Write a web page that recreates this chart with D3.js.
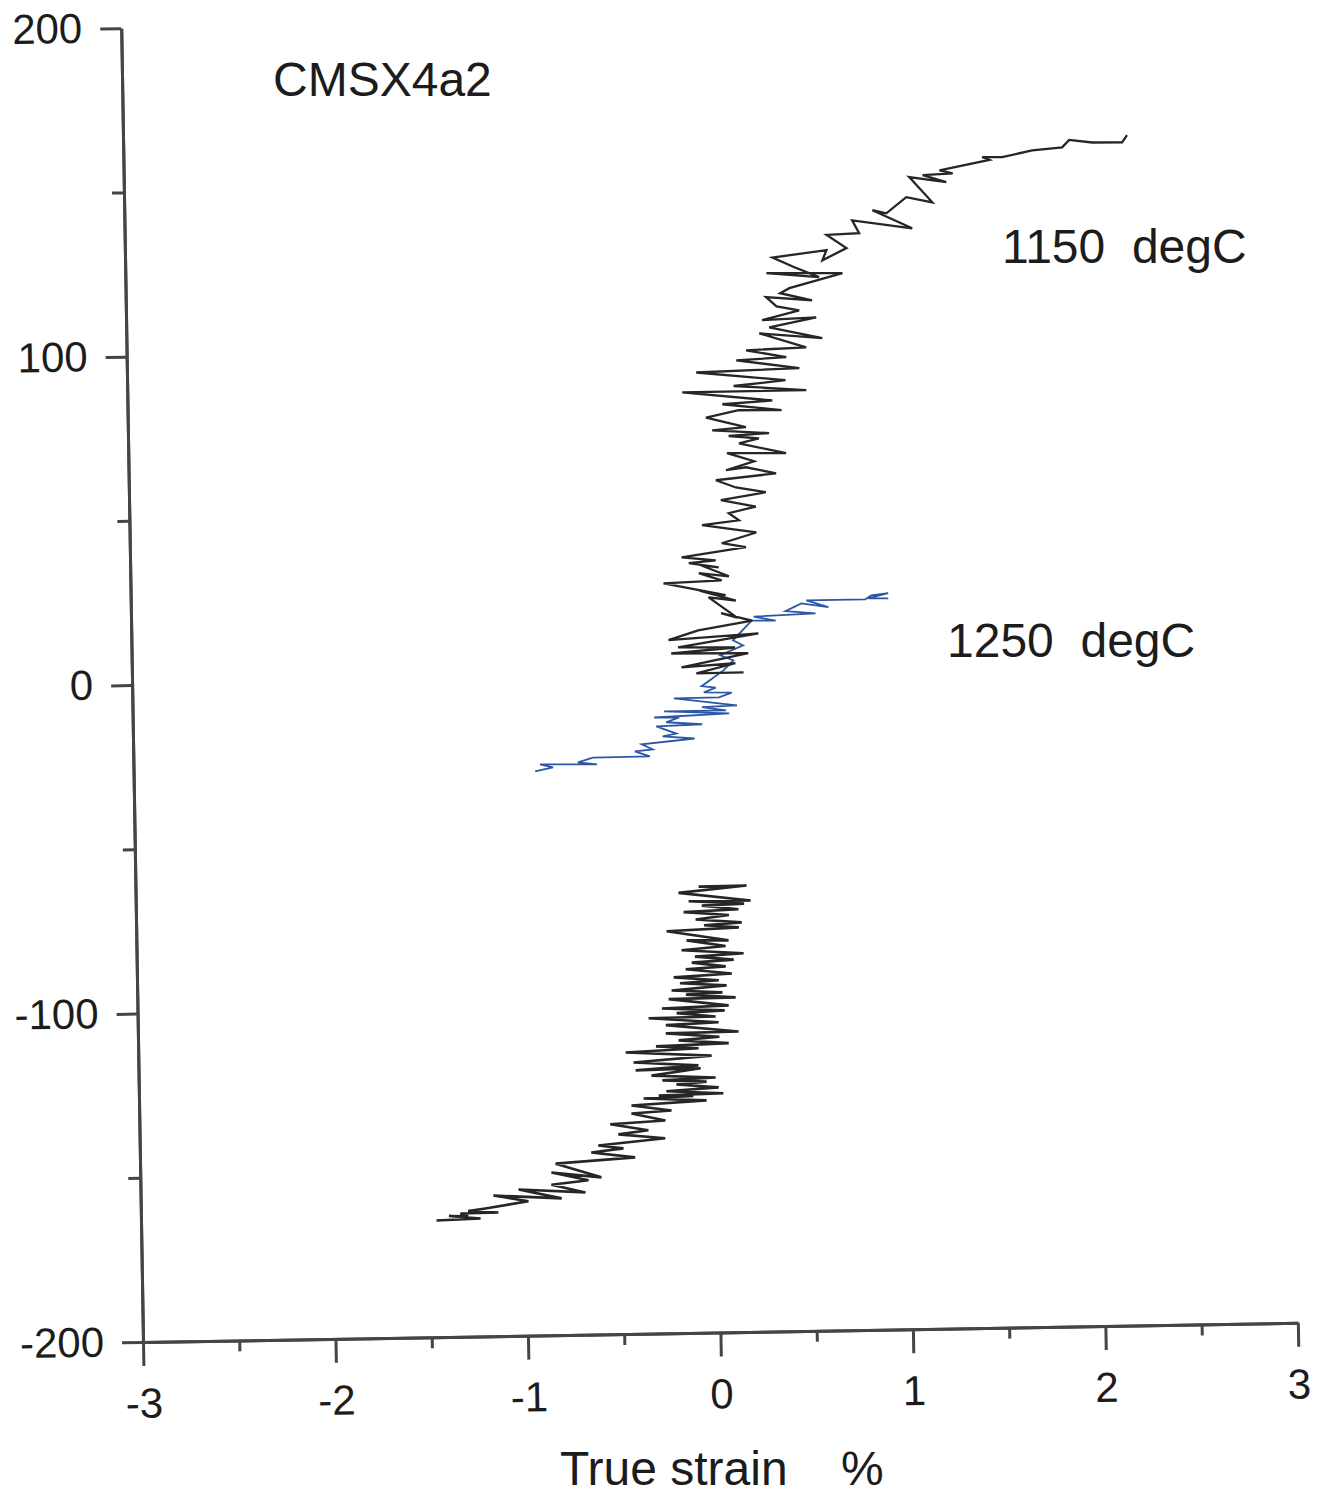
<!DOCTYPE html>
<html>
<head>
<meta charset="utf-8">
<script src="https://cdn.jsdelivr.net/npm/d3@7"></script>
<style>
  body { margin: 0; background: #fff; }
  svg text { font-family: "Liberation Sans", Arial, sans-serif; fill: #1c1c1c; }
</style>
</head>
<body>
<div id="chart"></div>
<script>
var width = 1327,
    height = 1494;

// axis ticks
var strainTicks = [-3, -2, -1, 0, 1, 2, 3];
var strainMinor = [-2.5, -1.5, -0.5, 0.5, 1.5, 2.5];
var stressTicks = [200, 100, 0, -100, -200];
var stressMinor = [150, 50, -50, -150];

// 1150 degC, tension half (strain %, stress MPa)
var upper1150 = [
  [0.177,0.8],[-0.068,0.7],[0.135,3.6],[-0.145,2.6],[0.203,6.6],[-0.197,6.9],[0.135,8.4],[-0.161,8.7],
  [0.257,12.6],[-0.210,11.0],[-0.055,13.8],[0.226,16.5],[0.065,18.9],[0.148,17.5],[0.002,23.8],[0.143,22.7],
  [-0.049,26.0],[0.091,24.4],[-0.231,28.3],[0.071,28.9],[-0.047,31.2],[0.109,30.1],[-0.036,33.6],[0.057,32.9],
  [-0.098,34.3],[0.042,35.0],[-0.135,36.1],[0.200,38.9],[0.075,40.2],[0.255,43.3],[-0.026,45.8],[0.166,47.1],
  [0.114,49.3],[0.255,51.2],[0.074,53.3],[0.308,55.5],[0.153,57.1],[0.050,59.4],[0.363,61.2],[0.207,63.2],
  [0.103,62.4],[0.250,65.0],[0.110,67.6],[0.417,67.3],[0.173,70.5],[0.277,71.9],[0.120,72.8],[0.330,73.5],
  [0.035,74.6],[0.210,75.4],[0.004,78.5],[0.174,80.6],[0.397,80.4],[0.090,82.5],[0.350,83.4],[-0.117,86.3],
  [0.527,86.4],[0.150,88.0],[0.420,89.5],[-0.043,92.3],[0.493,93.1],[0.166,95.8],[0.426,96.5],[0.218,98.8],
  [0.530,99.4],[0.288,103.9],[0.615,102.1],[0.340,105.7],[0.585,108.5],[0.304,107.9],[0.497,110.7],[0.380,112.0],
  [0.326,114.9],[0.565,113.7],[0.400,116.0],[0.448,117.5],[0.725,121.8],[0.330,122.2],[0.603,120.7],[0.470,124.0],
  [0.363,126.9],[0.644,128.9],[0.622,125.8],[0.748,129.4],[0.646,133.5],[0.815,133.9],[0.780,137.8],[1.091,135.1],
  [0.886,140.8],[0.958,139.8],[1.063,144.6],[1.198,142.9],[1.080,150.7],[1.272,149.0],[1.150,151.2],[1.306,151.6],
  [1.238,152.6],[1.498,155.5],[1.461,156.4],[1.565,156.3],[1.721,158.2],[1.877,159.0],[1.914,161.2],[2.033,160.3],
  [2.189,160.2],[2.215,162.4]
];

// 1150 degC, compression half
var lower1150 = [
  [-1.465,-164.5],[-1.236,-164.1],[-1.400,-163.2],[-1.300,-163.4],[-1.340,-162.5],[-1.143,-162.4],[-1.300,-161.8],[-1.210,-161.1],
  [-0.986,-159.1],[-1.167,-157.2],[-0.813,-158.4],[-1.036,-155.5],[-0.689,-156.7],[-0.865,-154.2],[-0.672,-153.0],[-0.864,-150.5],
  [-0.605,-152.2],[-0.841,-147.8],[-0.428,-146.3],[-0.655,-144.6],[-0.488,-143.5],[-0.618,-142.5],[-0.270,-140.6],[-0.513,-139.2],
  [-0.357,-138.1],[-0.554,-136.1],[-0.268,-135.2],[-0.443,-132.9],[-0.235,-132.2],[-0.442,-130.5],[-0.052,-129.3],[-0.379,-128.4],
  [-0.120,-127.9],[-0.300,-127.6],[0.036,-127.2],[-0.260,-126.3],[0.012,-125.4],[-0.207,-124.3],[-0.050,-123.6],[-0.280,-123.0],
  [-0.003,-122.4],[-0.336,-121.5],[-0.080,-119.5],[-0.418,-119.8],[-0.091,-118.6],[-0.428,-117.4],[-0.022,-115.7],[-0.468,-114.3],
  [-0.089,-113.4],[-0.310,-112.6],[0.068,-112.0],[-0.192,-110.9],[0.020,-110.0],[-0.258,-108.7],[0.120,-108.5],[-0.257,-106.2],
  [0.017,-105.6],[-0.346,-104.0],[0.002,-103.8],[-0.200,-102.6],[0.050,-102.0],[-0.276,-101.1],[0.071,-100.5],[-0.240,-98.3],
  [0.108,-98.1],[-0.150,-97.0],[0.040,-96.5],[-0.224,-95.7],[0.062,-94.4],[-0.180,-93.5],[0.022,-92.8],[-0.212,-91.7],
  [0.090,-90.8],[-0.149,-89.3],[0.059,-88.6],[-0.117,-87.3],[0.101,-86.6],[-0.100,-85.5],[0.153,-84.7],[-0.169,-83.5],
  [0.060,-82.4],[-0.142,-80.5],[0.076,-80.7],[-0.245,-77.6],[0.131,-76.8],[-0.050,-76.0],[0.146,-75.3],[-0.093,-74.2],
  [0.080,-73.0],[-0.155,-71.9],[0.130,-71.3],[-0.060,-70.0],[0.160,-69.6],[-0.128,-68.6],[0.194,-68.7],[-0.180,-66.0],
  [0.174,-64.1],[-0.075,-64.2]
];

// 1250 degC
var curve1250 = [
  [-0.914,-28.3],[-0.821,-27.2],[-0.888,-26.2],[-0.592,-26.5],[-0.691,-25.8],[-0.613,-24.4],[-0.317,-24.3],[-0.395,-22.7],
  [-0.301,-22.2],[-0.358,-20.6],[-0.083,-19.1],[-0.249,-18.3],[-0.177,-17.5],[-0.281,-15.2],[-0.042,-14.8],[-0.229,-14.0],
  [-0.161,-12.6],[-0.291,-12.5],[0.099,-11.6],[-0.239,-10.7],[0.083,-10.7],[-0.042,-9.6],[0.140,-9.2],[-0.187,-6.8],
  [0.047,-6.7],[0.114,-5.3],[-0.031,-5.1],[0.031,-3.7],[-0.042,-3.2],[0.073,1.5],[0.125,4.5],[0.057,6.1],
  [0.177,9.0],[0.125,10.6],[0.223,16.5],[0.348,16.4],[0.234,17.7],[0.556,18.4],[0.400,19.2],[0.483,21.5],
  [0.623,20.2],[0.509,22.4],[0.816,22.4],[0.847,23.6],[0.935,24.2],[0.831,22.7],[0.935,22.6]
];

var svg = d3.select("#chart").append("svg")
    .attr("width", width)
    .attr("height", height);

// plot frame (scanned page is tilted slightly, so the frame is rotated)
var frameLeft = 143, frameRight = 1298, frameTop = 28, frameBottom = 1342;

var x = d3.scaleLinear().domain([-3, 3]).range([frameLeft, frameRight]);
var y = d3.scaleLinear().domain([-200, 200]).range([frameBottom, frameTop]);

var g = svg.append("g")
    .attr("transform", "rotate(-0.95," + frameLeft + "," + frameBottom + ")");

var axisColor = "#454545";

function styleAxis(sel) {
  sel.selectAll("path").attr("stroke", axisColor).attr("stroke-width", 3);
  sel.selectAll("line").attr("stroke", axisColor).attr("stroke-width", 3);
  sel.selectAll("text")
     .style("font-size", "42px")
     .style("font-family", "'Liberation Sans', Arial, sans-serif")
     .attr("fill", "#1c1c1c");
}

// minor ticks first
g.append("g")
  .attr("transform", "translate(" + frameLeft + ",0)")
  .call(d3.axisLeft(y).tickValues(stressMinor).tickSize(12).tickSizeOuter(0).tickFormat(""))
  .call(styleAxis);

g.append("g")
  .attr("transform", "translate(0," + frameBottom + ")")
  .call(d3.axisBottom(x).tickValues(strainMinor).tickSize(11).tickSizeOuter(0).tickFormat(""))
  .call(styleAxis);

// major ticks with labels
g.append("g")
  .attr("transform", "translate(" + frameLeft + ",0)")
  .call(d3.axisLeft(y).tickValues(stressTicks).tickSize(21).tickSizeOuter(0).tickPadding(18)
        .tickFormat(function(d) { return String(d); }))
  .call(styleAxis);

g.append("g")
  .attr("transform", "translate(0," + frameBottom + ")")
  .call(d3.axisBottom(x).tickValues(strainTicks).tickSize(24).tickSizeOuter(0).tickPadding(22)
        .tickFormat(function(d) { return String(d); }))
  .call(styleAxis);

// curves
var line = d3.line()
    .x(function(d) { return x(d[0]); })
    .y(function(d) { return y(d[1]); });

g.append("path")
  .datum(lower1150)
  .attr("d", line)
  .attr("fill", "none")
  .attr("stroke", "#262626")
  .attr("stroke-width", 2.6);

g.append("path")
  .datum(curve1250)
  .attr("d", line)
  .attr("fill", "none")
  .attr("stroke", "#2d57a6")
  .attr("stroke-width", 1.8);

g.append("path")
  .datum(upper1150)
  .attr("d", line)
  .attr("fill", "none")
  .attr("stroke", "#262626")
  .attr("stroke-width", 2.3);

// annotations
svg.append("text")
  .attr("x", 273).attr("y", 96)
  .style("font-size", "48px")
  .text("CMSX4a2");

svg.append("text")
  .attr("x", 1002).attr("y", 263)
  .style("font-size", "48px")
  .style("white-space", "pre")
  .text("1150  degC");

svg.append("text")
  .attr("x", 947).attr("y", 657)
  .style("font-size", "48px")
  .style("white-space", "pre")
  .text("1250  degC");

svg.append("text")
  .attr("x", 560).attr("y", 1485)
  .style("font-size", "48px")
  .style("white-space", "pre")
  .text("True strain    %");
</script>
</body>
</html>
